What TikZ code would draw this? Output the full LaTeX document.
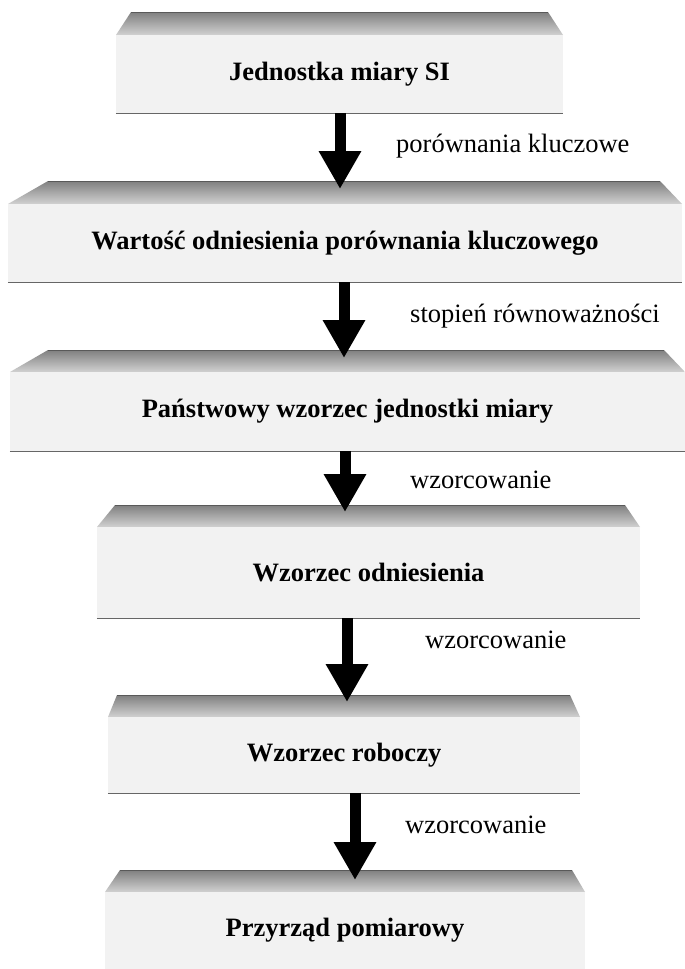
\documentclass[tikz,border=0pt]{standalone}
\usepackage{fontspec}
\setmainfont{Liberation Serif}
\usetikzlibrary{arrows.meta}
\tikzset{
  frontface/.style={fill=black!5, inner sep=0pt, font=\fontsize{26.5}{30}\selectfont\bfseries},
  bevelface/.style={top color=black!50, bottom color=black!18, draw=none},
  bevelrim/.style={draw=black!65, line width=1pt},
  edgeline/.style={draw=black!60, line width=1.4pt},
  bigarrow/.style={line width=11pt, -{Triangle[width=40pt,length=38pt]}},
  lbl/.style={anchor=west, inner sep=0pt, font=\fontsize{26.5}{30}\selectfont},
}
% #1 name, #2 x left, #3 x right, #4 bevel top y, #5 front top y, #6 bottom y, #7 left inset, #8 right inset, #9 text
\newcommand\slab[9]{%
  \shade[bevelface] (#2+#7,#4) -- (#3-#8,#4) -- (#3,#5) -- (#2,#5) -- cycle;
  \draw[bevelrim] (#2+#7,#4) -- (#3-#8,#4);
  \node[frontface, minimum width={(#3-#2)*1pt}, minimum height={(#6-#5)*1pt}] (#1) at ({(#2+#3)/2},{(#5+#6)/2}) {#9};
  \draw[edgeline] (#1.south west) -- (#1.south east);
  \coordinate (#1t) at ({(#2+#3)/2},#4);
}
\begin{document}
\begin{tikzpicture}[x=1pt,y=-1pt]
\useasboundingbox[fill=white] (0,0) rectangle (685,969);

\slab{b1}{116}{563}{12}{35}{113}{15}{15}{Jednostka miary SI}
\slab{b2}{8}{682}{181}{204}{282}{40}{22}{Wartość odniesienia porównania kluczowego}
\slab{b3}{10}{685}{350}{372}{451}{38}{21}{Państwowy wzorzec jednostki miary}
\slab{b4}{97}{640}{505}{527}{618}{18}{15}{Wzorzec odniesienia}
\slab{b5}{108}{580}{695}{717}{793}{9}{10}{Wzorzec roboczy}
\slab{b6}{105}{585}{870}{892}{969}{15}{13}{Przyrząd pomiarowy}

\draw[bigarrow, shorten >=-8pt] (b1.south -| 340,0) -- (b2t -| 340,0);
\draw[bigarrow, shorten >=-8pt] (b2.south -| 344,0) -- (b3t -| 344,0);
\draw[bigarrow, shorten >=-7pt] (b3.south -| 345,0) -- (b4t -| 345,0);
\draw[bigarrow, shorten >=-7pt] (b4.south -| 347,0) -- (b5t -| 347,0);
\draw[bigarrow, shorten >=-10pt] (b5.south -| 355,0) -- (b6t -| 355,0);

\node[lbl] (l1) at (396,146) {porównania kluczowe};
\node[lbl] (l2) at (410,316) {stopień równoważności};
\node[lbl] (l3) at (410,480) {wzorcowanie};
\node[lbl] (l4) at (425,640) {wzorcowanie};
\node[lbl] (l5) at (405,825) {wzorcowanie};
\end{tikzpicture}
\end{document}
